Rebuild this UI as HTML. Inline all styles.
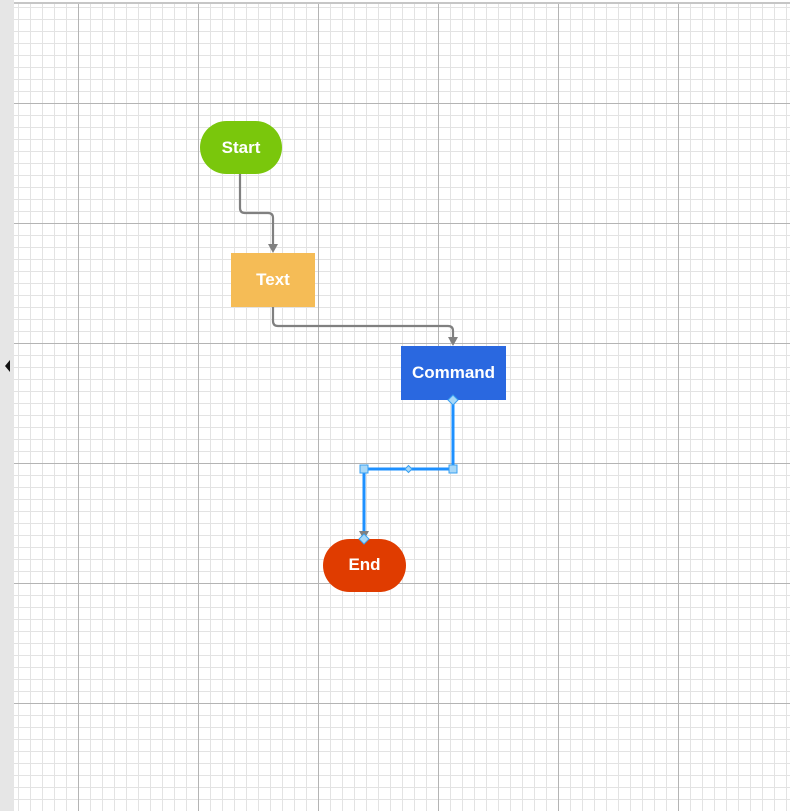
<!DOCTYPE html>
<html><head><style>
body{margin:0;width:790px;height:811px;overflow:hidden;background:#fff;position:relative}
#grid{position:absolute;left:14px;top:0;width:776px;height:811px;
background-image:
linear-gradient(to right,#b4b4b4 1px,transparent 1px),
linear-gradient(to bottom,#b4b4b4 1px,transparent 1px),
linear-gradient(to right,#e3e3e3 1px,transparent 1px),
linear-gradient(to bottom,#e3e3e3 1px,transparent 1px);
background-size:120px 120px,120px 120px,12px 12px,12px 12px;
background-position:64px 103px,64px 103px,4px 7px,4px 7px;}
svg{position:absolute;left:0;top:0}
</style></head><body>
<div id="grid"></div>
<svg width="790" height="811" xmlns="http://www.w3.org/2000/svg">
<rect x="14" y="0" width="776" height="2" fill="#fff"/>
<rect x="14" y="2" width="776" height="2" fill="#c6c6c6"/>
<rect x="0" y="0" width="14" height="811" fill="#e6e6e6"/>
<polygon points="10,360 10,372 5,366" fill="#111"/>
<g fill="none" stroke="#808080" stroke-width="2.2">
<path d="M240 174V208Q240 213 245 213H268Q273 213 273 218V250"/>
<path d="M273 307V321Q273 326 278 326H448Q453 326 453 331V343"/>
</g>
<polygon points="268,244 278,244 273,253" fill="#808080"/>
<polygon points="448,337 458,337 453,346" fill="#808080"/>
<rect x="200" y="121" width="82" height="53" rx="26.5" fill="#7ac70c"/>
<rect x="231" y="253" width="84" height="54" fill="#f5bc56"/>
<rect x="401" y="346" width="105" height="54" fill="#2a68e0"/>
<rect x="323" y="539" width="83" height="53" rx="26.5" fill="#e03c00"/>
<g font-family="Liberation Sans, sans-serif" font-weight="bold" font-size="17" fill="#fff" text-anchor="middle">
<text x="241" y="153">Start</text>
<text x="273" y="285">Text</text>
<text x="453.5" y="378">Command</text>
<text x="364.5" y="570">End</text>
</g>
<path d="M453 400V469H364V537" fill="none" stroke="#1e90ff" stroke-width="3"/>
<polygon points="359,531 369,531 364,540" fill="#808080"/>
<g fill="#a8d8f8" stroke="#3aa0f0" stroke-width="1">
<rect x="360" y="465" width="8" height="8"/>
<rect x="449" y="465" width="8" height="8"/>
<polygon points="408.5,465.5 412,469 408.5,472.5 405,469"/>
<polygon points="453,395 458,400 453,405 448,400"/>
<polygon points="364,534 369,539 364,544 359,539"/>
</g>
</svg>
</body></html>
